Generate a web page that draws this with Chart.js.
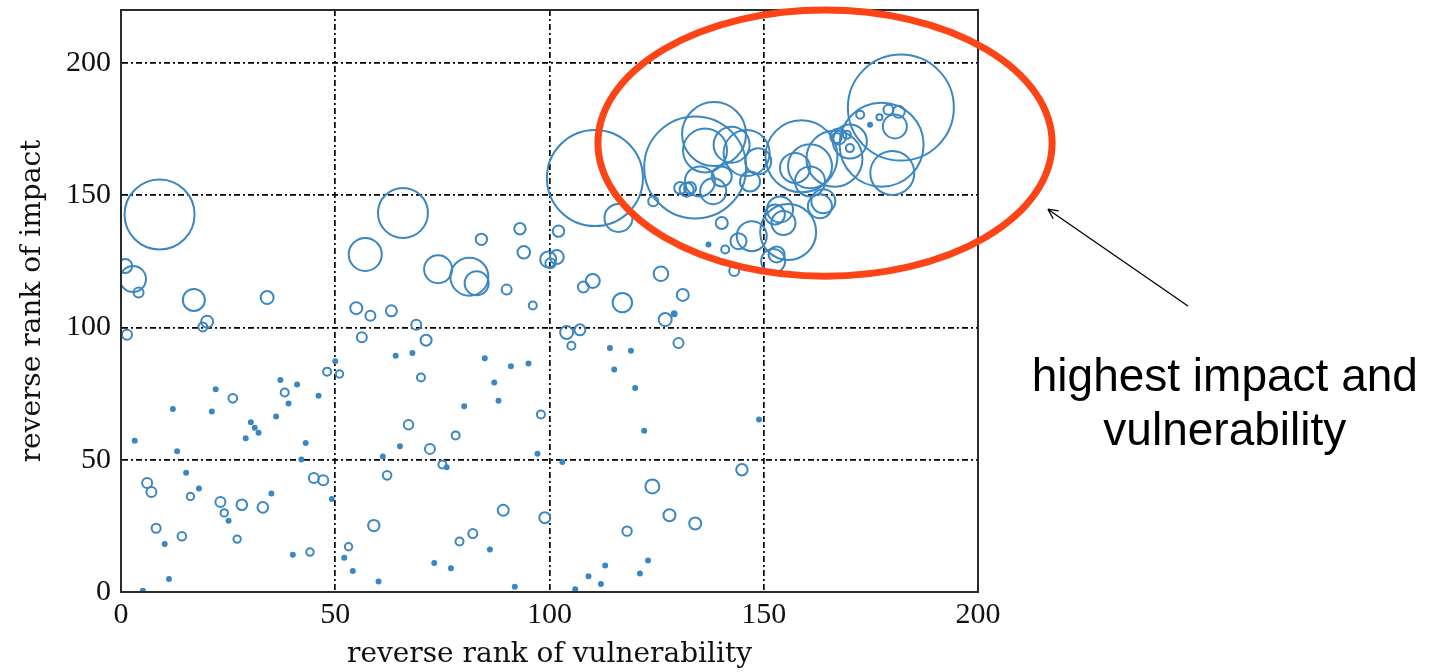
<!DOCTYPE html>
<html>
<head>
<meta charset="utf-8">
<script src="https://cdn.jsdelivr.net/npm/chart.js@4"></script>
<style>
  html, body { margin: 0; padding: 0; background: #fff; }
  #wrap { width: 1443px; height: 672px; }
</style>
</head>
<body>
<div id="wrap"><canvas id="myChart" width="1443" height="672"></canvas></div>
<script>
// reverse rank of vulnerability (x), reverse rank of impact (y), bubble radius (px)
const vulnRank = [
  9.0, 1.0, 2.8, 4.1, 17.0, 34.1, 20.1, 19.1, 1.4, 65.8,
  57.0, 54.9, 58.2, 63.1, 56.2, 68.9, 50.0, 48.1, 51.0, 37.2,
  41.1, 64.1, 68.0, 22.1, 26.1, 38.2, 46.1, 12.1, 21.2, 39.1,
  36.2, 30.3, 31.2, 32.1, 29.1, 3.2, 13.1, 43.1, 42.1, 15.2,
  6.1, 7.1, 18.2, 16.2, 23.2, 24.1, 25.1, 28.2, 33.1, 35.1,
  45.0, 47.2, 49.2, 8.2, 14.2, 10.2, 27.1, 40.1, 44.1, 11.2,
  5.1, 53.1, 52.1, 54.1, 60.1, 67.1, 65.1, 61.1, 62.1, 59.0,
  71.2, 70.0, 84.9, 91.0, 95.1, 87.1, 88.1, 80.1, 98.0, 78.1,
  72.1, 75.0, 76.0, 97.2, 89.2, 98.9, 79.0, 82.1, 86.1, 73.1,
  77.0, 91.9, 103.0, 120.0, 122.1, 148.9, 144.9, 124.0, 128.0, 134.0,
  118.1, 123.0, 121.1, 113.0, 109.1, 112.0, 106.0, 114.1, 119.0, 115.1,
  130.1, 104.0, 107.1, 105.1, 127.0, 129.1, 93.1, 84.1, 94.0, 102.1,
  99.7, 101.7, 100.2, 74.0, 81.3, 83.0, 90.0, 96.1, 110.1, 107.9,
  117.0, 126.0, 131.1, 110.6, 116.1, 137.1, 143.1, 141.0, 140.2, 144.1,
  147.2, 152.2, 134.0, 138.4, 136.3, 142.5, 146.0, 135.1, 132.0, 138.2,
  140.2, 148.7, 146.8, 124.2, 130.5, 152.6, 153.0, 182.0, 177.5, 180.0,
  180.6, 172.5, 174.8, 179.1, 170.1, 167.4, 158.8, 166.5, 160.8, 160.8,
  157.3, 163.9, 155.7, 153.8, 154.6, 163.1, 177.0, 181.5, 167.0, 169.4,
  170.1, 132.8
];
const impactRank = [
  142.7, 123.2, 118.3, 113.2, 110.4, 111.3, 102.2, 100.2, 97.2, 143.3,
  127.6, 107.3, 104.4, 106.3, 96.3, 101.0, 87.2, 83.3, 82.4, 80.1,
  78.4, 89.3, 90.3, 76.6, 73.2, 75.4, 74.2, 69.2, 68.2, 71.3,
  66.3, 64.2, 62.1, 60.2, 58.1, 57.2, 53.2, 56.3, 50.1, 45.1,
  41.2, 37.8, 39.1, 36.1, 34.0, 29.9, 26.9, 33.0, 32.0, 37.2,
  43.1, 42.2, 35.2, 24.1, 21.1, 18.1, 20.0, 14.1, 15.1, 4.9,
  0.5, 17.1, 12.9, 7.9, 4.0, 63.2, 55.1, 51.2, 44.1, 25.1,
  95.2, 81.1, 88.4, 85.3, 86.4, 79.2, 72.3, 70.2, 67.1, 59.2,
  54.1, 48.2, 47.2, 52.3, 30.9, 28.1, 19.1, 22.1, 16.1, 11.0,
  9.0, 2.0, 49.1, 77.1, 61.0, 65.2, 46.2, 39.9, 29.0, 25.9,
  23.0, 11.9, 7.0, 10.0, 6.0, 3.0, 1.0, 92.2, 91.2, 84.1,
  94.1, 98.1, 99.1, 93.1, 103.0, 105.2, 137.3, 133.3, 128.4, 136.4,
  125.7, 126.6, 124.3, 122.0, 119.2, 116.7, 114.3, 108.3, 117.6, 115.3,
  109.4, 120.3, 112.3, 156.5, 141.4, 131.4, 121.3, 129.5, 139.5, 132.6,
  134.5, 125.1, 160.5, 173.1, 166.9, 169.1, 165.9, 155.2, 152.1, 151.5,
  157.1, 162.8, 155.2, 147.7, 152.7, 142.7, 127.6, 183.1, 169.1, 158.4,
  176.0, 180.4, 176.6, 182.3, 170.3, 172.2, 164.7, 163.8, 160.9, 155.2,
  160.3, 147.7, 136.1, 144.6, 139.5, 145.8, 179.5, 181.5, 171.6, 172.8,
  167.8, 152.7
];
const bubbleSize = [
  35, 7, 13, 5, 11, 6.5, 6, 4.5, 5, 25,
  16.5, 6, 5, 5.5, 5, 5, 2, 4, 3.7, 2,
  2, 2, 2, 2, 4.3, 4, 2, 2, 2, 2,
  2, 2, 2, 2, 2, 2, 2, 2, 2, 2,
  5, 5, 2, 3.7, 5, 3.7, 2, 5.3, 5.3, 2,
  5, 5, 2, 4.5, 4.3, 2, 3.7, 2, 3.7, 2,
  2, 3.7, 2, 2, 2, 4.7, 2, 2, 4.3, 5.7,
  5.5, 4, 2, 2, 2, 2, 2, 2, 4, 4,
  5, 4, 2, 2, 5.5, 5.5, 4, 4.5, 2, 2,
  2, 2, 2, 2, 2, 2, 5.7, 7, 6, 6,
  4.7, 2, 2, 2, 2, 2, 2, 2, 2, 2,
  5, 6.5, 5.5, 4, 6.5, 2.5, 5.7, 5.7, 6.3, 5.7,
  8, 7, 5, 14, 19, 12, 5, 4, 7, 5.5,
  9.7, 7.3, 6, 48, 14, 2, 5, 4, 6, 8,
  15, 12, 51, 32, 22, 18, 23, 15, 7, 13,
  10, 13, 10, 5, 6, 10, 8, 53, 42, 22,
  12, 4, 2, 5, 17, 8, 36, 28, 22, 15,
  15, 12, 28, 13, 12, 12, 3, 6, 5, 4,
  4, 6
];
const xTicks = [0, 50, 100, 150, 200];
const yTicks = [0, 50, 100, 150, 200];
const noteLines = ['highest impact and', 'vulnerability'];

const points = vulnRank.map((x, i) => ({ x: x, y: impactRank[i], r: bubbleSize[i] }));

const serif = "'Liberation Serif', 'Times New Roman', serif";
const titleSerif = "'DejaVu Serif', serif";
const blue = '#3a87c2';

// frame around the axes + red ellipse, arrow and note
const annotate = {
  id: 'annotate',
  afterDraw(chart) {
    const { ctx, chartArea: a, scales: { x, y } } = chart;
    ctx.save();
    ctx.strokeStyle = '#2b2b2b';
    ctx.lineWidth = 2;
    ctx.strokeRect(a.left, a.top, a.right - a.left, a.bottom - a.top);

    // ellipse around the top-right group
    const cx = x.getPixelForValue(164.3), cy = y.getPixelForValue(169.7);
    const rx = x.getPixelForValue(164.3 + 53) - cx;
    const ry = cy - y.getPixelForValue(169.7 + 50.3);
    ctx.strokeStyle = '#fd4417';
    ctx.lineWidth = 7;
    ctx.beginPath();
    ctx.ellipse(cx, cy, rx, ry, 0, 0, Math.PI * 2);
    ctx.stroke();

    // arrow
    const x0 = x.getPixelForValue(249), y0 = y.getPixelForValue(108.1);
    const x1 = x.getPixelForValue(216.3), y1 = y.getPixelForValue(144.7);
    ctx.strokeStyle = '#000';
    ctx.lineWidth = 1.3;
    ctx.beginPath();
    ctx.moveTo(x0, y0);
    ctx.lineTo(x1, y1);
    const ang = Math.atan2(y1 - y0, x1 - x0);
    ctx.moveTo(x1, y1);
    ctx.lineTo(x1 - 11 * Math.cos(ang - 0.45), y1 - 11 * Math.sin(ang - 0.45));
    ctx.moveTo(x1, y1);
    ctx.lineTo(x1 - 11 * Math.cos(ang + 0.45), y1 - 11 * Math.sin(ang + 0.45));
    ctx.stroke();

    // note text
    ctx.fillStyle = '#000';
    ctx.font = "46px 'Liberation Sans', Arial, sans-serif";
    ctx.textAlign = 'center';
    ctx.textBaseline = 'alphabetic';
    const tx = x.getPixelForValue(257.6);
    ctx.fillText(noteLines[0], tx, y.getPixelForValue(76.1));
    ctx.fillText(noteLines[1], tx, y.getPixelForValue(55.4));
    ctx.restore();
  }
};

const gridStyle = {
  color: '#000',
  lineWidth: 1.7,
  drawTicks: false
};

new Chart(document.getElementById('myChart'), {
  type: 'bubble',
  data: {
    datasets: [{
      data: points,
      borderColor: blue,
      backgroundColor: c => (c.raw && c.raw.r <= 2.5 ? blue : 'rgba(0,0,0,0)'),
      borderWidth: 2,
      hoverBorderWidth: 2,
      clip: 0
    }]
  },
  options: {
    responsive: false,
    animation: false,
    events: [],
    layout: { autoPadding: false, padding: { left: 0, top: 10, right: 465, bottom: 0 } },
    plugins: { legend: { display: false }, tooltip: { enabled: false } },
    scales: {
      x: {
        type: 'linear',
        min: 0,
        max: 200,
        afterBuildTicks: s => { s.ticks = xTicks.map(v => ({ value: v })); },
        afterFit: s => { s.height = 80; s.paddingLeft = 0; s.paddingRight = 0; },
        grid: gridStyle,
        border: { display: true, color: '#2b2b2b', width: 2, dash: [6, 3, 2, 3] },
        ticks: { color: '#111', padding: 5, font: { family: serif, size: 30 }, maxRotation: 0 },
        title: {
          display: true,
          text: 'reverse rank of vulnerability',
          color: '#111',
          font: { family: titleSerif, size: 28 },
          padding: { top: 0, bottom: 0 }
        }
      },
      y: {
        type: 'linear',
        min: 0,
        max: 220,
        afterBuildTicks: s => { s.ticks = yTicks.map(v => ({ value: v })); },
        afterFit: s => { s.width = 121; s.paddingTop = 0; s.paddingBottom = 0; },
        grid: gridStyle,
        border: { display: true, color: '#2b2b2b', width: 2, dash: [6, 3, 2, 3] },
        ticks: { color: '#111', padding: 10, font: { family: serif, size: 30 } },
        title: {
          display: true,
          text: 'reverse rank of impact',
          color: '#111',
          font: { family: titleSerif, size: 28 },
          padding: { top: 16, bottom: 0 }
        }
      }
    }
  },
  plugins: [annotate]
});
</script>
</body>
</html>
